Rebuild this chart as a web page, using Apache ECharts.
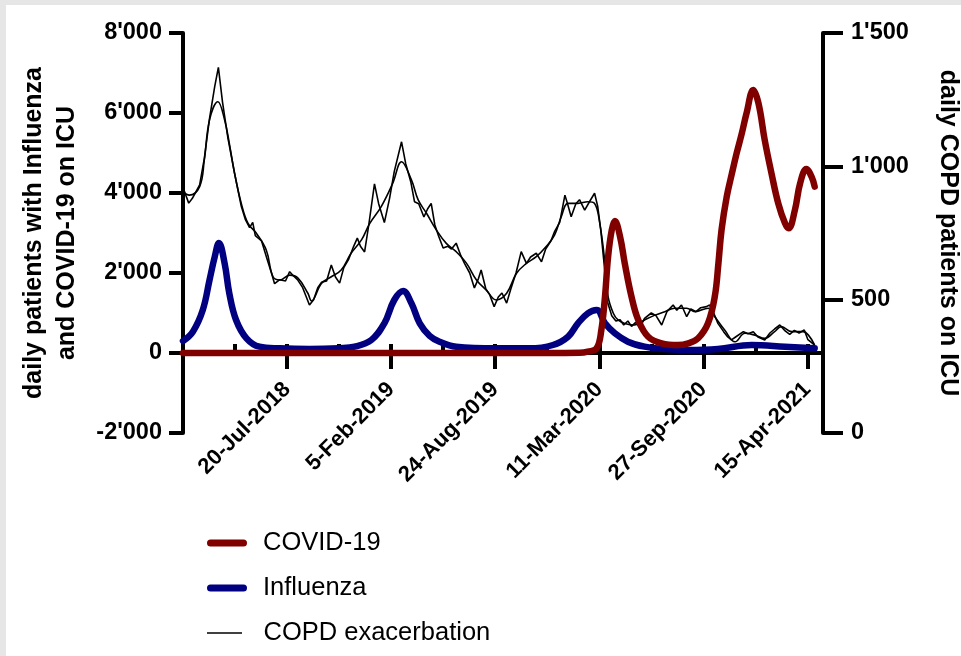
<!DOCTYPE html>
<html>
<head>
<meta charset="utf-8">
<title>ICU patients: COVID-19, Influenza, COPD</title>
<script src="https://cdn.jsdelivr.net/npm/echarts@6/dist/echarts.min.js"></script>
<style>
  html, body { margin: 0; padding: 0; background: #fff; }
  #chart { width: 961px; height: 656px; }
  .strip { position: absolute; background: #e6e6e6; }
</style>
</head>
<body>
<div id="chart"></div>
<div class="strip" style="left:0;top:0;width:961px;height:5px"></div>
<div class="strip" style="left:0;top:0;width:6px;height:656px"></div>
<script>
// x values are days since 1-Jan-2018
const influenzaDays = [0, 19, 38, 51, 61, 69, 80, 89, 102, 122, 147, 186, 243, 300, 330, 362, 387, 406, 423, 439, 455, 474, 493, 525, 602, 666, 711, 740, 759, 778, 795, 811, 830, 855, 887, 926, 970, 1028, 1093, 1157, 1214]
const influenza = [300, 533, 1075, 1825, 2408, 2750, 2242, 1492, 825, 367, 158, 117, 100, 120, 158, 325, 742, 1325, 1550, 1242, 742, 430, 283, 158, 117, 117, 200, 408, 742, 992, 1075, 742, 492, 283, 158, 100, 75, 100, 200, 158, 117]

const covidDays = [0, 700, 762, 778, 795, 804, 811, 817, 824, 830, 840, 849, 862, 875, 894, 920, 951, 971, 990, 1009, 1022, 1029, 1035, 1045, 1055, 1064, 1074, 1083, 1096, 1106, 1118, 1131, 1144, 1157, 1164, 1176, 1186, 1198, 1208, 1214]
const covid = [0, 0, 5, 33, 117, 575, 1408, 2408, 3075, 3300, 2908, 2242, 1408, 825, 408, 242, 200, 242, 367, 742, 1408, 2242, 3075, 3908, 4492, 4992, 5492, 5992, 6575, 6242, 5325, 4492, 3742, 3242, 3117, 3575, 4242, 4600, 4408, 4158]

// COPD: daily counts and the smoothed curve (right axis)
const copdRawDays = [1, 11, 18, 32, 41, 51, 61, 68, 76, 86, 99, 112, 120, 128, 134, 139, 151, 162, 170, 176, 186, 197, 205, 212, 220, 230, 237, 243, 251, 259, 266, 276, 285, 293, 301, 309, 318, 328, 335, 341, 349, 357, 368, 376, 387, 397, 406, 420, 428, 438, 445, 453, 463, 470, 477, 484, 491, 500, 509, 516, 525, 534, 541, 551, 560, 568, 573, 582, 589, 598, 606, 613, 622, 630, 640, 650, 660, 668, 679, 689, 697, 707, 714, 724, 734, 739, 746, 755, 762, 772, 782, 791, 797, 803, 811, 816, 824, 832, 840, 847, 855, 862, 870, 878, 887, 900, 909, 920, 930, 942, 949, 958, 968, 976, 986, 995, 1006, 1012, 1020, 1028, 1039, 1047, 1054, 1062, 1077, 1086, 1096, 1105, 1118, 1128, 1137, 1147, 1156, 1166, 1175, 1184, 1194, 1201, 1214]
const copdRaw = [915, 862, 880, 930, 1030, 1180, 1300, 1371, 1240, 1110, 975, 850, 800, 770, 790, 740, 720, 650, 600, 560, 575, 570, 605, 590, 575, 545, 510, 480, 500, 545, 565, 570, 630, 585, 562, 620, 650, 700, 731, 700, 679, 780, 934, 860, 789, 880, 980, 1092, 1010, 940, 867, 860, 810, 840, 861, 780, 740, 694, 700, 690, 712, 665, 636, 600, 544, 580, 611, 540, 520, 474, 510, 525, 487, 540, 600, 680, 636, 660, 674, 642, 690, 720, 755, 790, 892, 860, 811, 860, 875, 836, 870, 899, 850, 760, 600, 490, 440, 420, 425, 405, 420, 400, 415, 395, 430, 450, 440, 405, 455, 480, 460, 480, 436, 465, 455, 470, 474, 480, 450, 411, 380, 360, 349, 360, 380, 372, 380, 360, 349, 375, 390, 405, 385, 370, 385, 375, 386, 350, 330]
const copdAvgDays = [0, 12, 32, 41, 51, 67, 80, 89, 99, 112, 125, 141, 160, 173, 186, 205, 221, 240, 247, 266, 285, 304, 323, 343, 359, 381, 403, 420, 439, 452, 468, 487, 506, 525, 545, 564, 583, 602, 622, 641, 660, 679, 698, 714, 727, 740, 759, 778, 791, 801, 811, 817, 827, 836, 849, 868, 887, 907, 926, 945, 968, 984, 1009, 1022, 1041, 1061, 1080, 1099, 1118, 1137, 1150, 1170, 1192, 1202, 1214]
const copdAvg = [905, 892, 924, 1024, 1174, 1242, 1174, 1086, 975, 861, 786, 749, 686, 586, 574, 592, 581, 524, 495, 561, 586, 611, 674, 724, 786, 849, 936, 1017, 949, 874, 824, 761, 711, 680, 636, 574, 536, 499, 524, 599, 636, 661, 699, 742, 811, 861, 861, 867, 861, 786, 636, 511, 449, 424, 411, 405, 424, 442, 455, 468, 468, 455, 468, 436, 386, 342, 374, 367, 355, 380, 399, 380, 380, 367, 330]

const legendNames = ['COVID-19', 'Influenza', 'COPD exacerbation']

const MONTHS = ['Jan', 'Feb', 'Mar', 'Apr', 'May', 'Jun', 'Jul', 'Aug', 'Sep', 'Oct', 'Nov', 'Dec']
const START = Date.UTC(2018, 0, 1)

const pairs = (xs, ys) => xs.map((x, i) => [x, ys[i]])

// 8000 -> 8'000
const fmtNum = (v) => {
  const s = String(Math.abs(v)).replace(/\B(?=(\d{3})+(?!\d))/g, "'")
  return (v < 0 ? '-' : '') + s
}

const fmtDay = (d) => {
  if (d <= 0 || d % 200 !== 0) return ''
  const dt = new Date(START + d * 86400000)
  return dt.getUTCDate() + '-' + MONTHS[dt.getUTCMonth()] + '-' + dt.getUTCFullYear()
}

const FONT = 'Liberation Sans, Arial, sans-serif'
const tickText = { color: '#000', fontFamily: FONT, fontWeight: 'bold', fontSize: 23.5 }
const nameText = { color: '#000', fontFamily: FONT, fontWeight: 'bold', fontSize: 25 }

// legend icons: thick capsule and thin line
const CAPSULE = 'path://M3.5,0H36.5A3.5,3.5 0 0 1 36.5,7H3.5A3.5,3.5 0 0 1 3.5,0Z'
const THIN = 'path://M0,0H35V1.5H0Z'

// one legend per row so every icon can get its own thickness
const legendRow = (name, i, icon, h, gap) => ({
  orient: 'vertical',
  left: 207,
  top: 529 + i * 45,
  padding: 0,
  itemWidth: 40,
  itemHeight: h,
  icon: icon,
  data: [name],
  selectedMode: false,
  textStyle: { color: '#000', fontFamily: FONT, fontSize: 25.5, lineHeight: 28, padding: [0, 0, 0, gap] }
})

const chart = echarts.init(document.getElementById('chart'))

chart.setOption({
  animation: false,
  backgroundColor: 'transparent',
  grid: { left: 183, right: 138, top: 33, bottom: 223, outerBoundsMode: 'none' },
  legend: [
    legendRow(legendNames[0], 0, CAPSULE, 7, 11),
    legendRow(legendNames[1], 1, CAPSULE, 7, 11),
    legendRow(legendNames[2], 2, THIN, 1.5, 14)
  ],
  xAxis: [
    {
      type: 'value',
      min: 0,
      max: 1230,
      interval: 200,
      splitLine: { show: false },
      axisLine: { onZero: true, onZeroAxisIndex: 0, lineStyle: { color: '#000', width: 4 } },
      axisTick: { length: 16, lineStyle: { color: '#000', width: 4 } },
      axisLabel: { ...tickText, fontSize: 22, rotate: 45, margin: -47, formatter: fmtDay }
    },
    {
      type: 'value',
      min: 0,
      max: 1230,
      interval: 100,
      splitLine: { show: false },
      axisLine: { show: false, onZero: true, onZeroAxisIndex: 0 },
      axisTick: { length: 9, lineStyle: { color: '#000', width: 4 } },
      axisLabel: { show: false }
    }
  ],
  yAxis: [
    {
      type: 'value',
      min: -2000,
      max: 8000,
      interval: 2000,
      position: 'left',
      name: 'daily patients with Influenza\nand COVID-19 on ICU',
      nameLocation: 'middle',
      nameGap: 99,
      nameTextStyle: { ...nameText, lineHeight: 33 },
      splitLine: { show: false },
      axisLine: { show: true, onZero: false, lineStyle: { color: '#000', width: 4 } },
      axisTick: { length: 14, lineStyle: { color: '#000', width: 4 } },
      axisLabel: { ...tickText, margin: 21, formatter: fmtNum }
    },
    {
      type: 'value',
      min: 0,
      max: 1500,
      interval: 500,
      position: 'right',
      name: 'daily COPD patients on ICU',
      nameLocation: 'middle',
      nameRotate: -90,
      nameGap: 110,
      nameTextStyle: { ...nameText, lineHeight: 30 },
      splitLine: { show: false },
      axisLine: { show: true, onZero: false, lineStyle: { color: '#000', width: 4 } },
      axisTick: { length: 20, lineStyle: { color: '#000', width: 4 } },
      axisLabel: { ...tickText, margin: 28, formatter: fmtNum }
    }
  ],
  series: [
    {
      name: legendNames[2],
      type: 'line',
      yAxisIndex: 1,
      data: pairs(copdRawDays, copdRaw),
      symbol: 'none',
      lineStyle: { color: '#000', width: 1.6 },
      itemStyle: { color: '#000' }
    },
    {
      name: legendNames[2],
      type: 'line',
      yAxisIndex: 1,
      data: pairs(copdAvgDays, copdAvg),
      symbol: 'none',
      smooth: 0.4,
      lineStyle: { color: '#000', width: 1.6 },
      itemStyle: { color: '#000' }
    },
    {
      name: legendNames[1],
      type: 'line',
      data: pairs(influenzaDays, influenza),
      symbol: 'none',
      smooth: 0.4,
      lineStyle: { color: '#000080', width: 6.5, cap: 'round', join: 'round' },
      itemStyle: { color: '#000080' }
    },
    {
      name: legendNames[0],
      type: 'line',
      data: pairs(covidDays, covid),
      symbol: 'none',
      smooth: 0.4,
      lineStyle: { color: '#800000', width: 6.5, cap: 'round', join: 'round' },
      itemStyle: { color: '#800000' }
    }
  ]
})
</script>
</body>
</html>
